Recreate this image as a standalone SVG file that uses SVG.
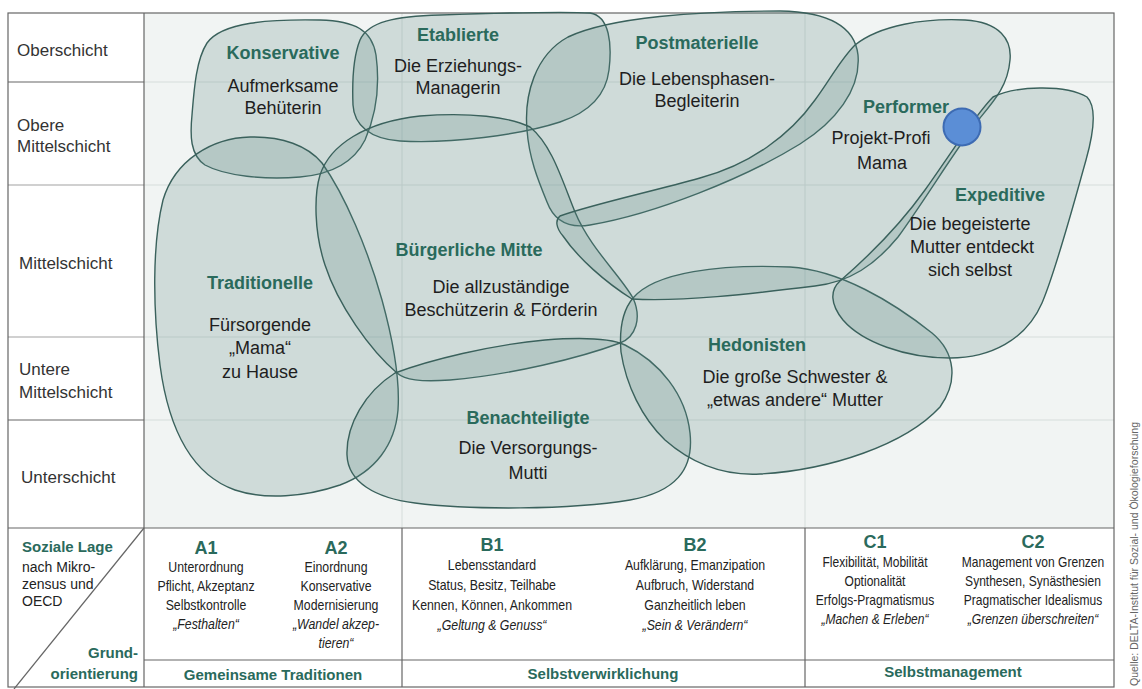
<svg xmlns="http://www.w3.org/2000/svg" width="1142" height="689" viewBox="0 0 1142 689">
<style>
text{font-family:"Liberation Sans",Arial,sans-serif}
.blob{fill:#5f8a84;fill-opacity:0.23;stroke:#3a615c;stroke-width:1.4}
.t{font-weight:bold;font-size:18px;fill:#2a6a5c;text-anchor:middle}
.s{font-size:18px;fill:#1e1e1e;text-anchor:middle}
.row{font-size:17px;fill:#333}
.grid{stroke:#d6dddb;stroke-width:1}
.line{stroke:#666;stroke-width:1.2;fill:none}
.hd{font-weight:bold;font-size:18px;fill:#2a6a5c;text-anchor:middle}
.c{font-size:14px;fill:#222;text-anchor:middle}
.ci{font-size:14px;fill:#222;text-anchor:middle;font-style:italic}
.or{font-weight:bold;font-size:15px;fill:#2a6a5c;text-anchor:middle}
.ore{font-weight:bold;font-size:15px;fill:#2a6a5c;text-anchor:end}
.lg{font-size:14px;fill:#222}
.lgh{font-size:15px;font-weight:bold;fill:#2a6a5c}
</style>
<rect x="0" y="0" width="1142" height="689" fill="#ffffff"/>
<rect x="144" y="13" width="970" height="515" fill="#f1f4f3"/>
<g id="grid">
<line class="grid" x1="144" y1="82" x2="1114" y2="82"/>
<line class="grid" x1="144" y1="185" x2="1114" y2="185"/>
<line class="grid" x1="144" y1="337" x2="1114" y2="337"/>
<line class="grid" x1="144" y1="420" x2="1114" y2="420"/>
<line class="grid" x1="402" y1="13" x2="402" y2="528"/>
<line class="grid" x1="805" y1="13" x2="805" y2="528"/>
</g>
<g id="frame">
<rect class="line" x="8" y="13" width="1106" height="674"/>
<line class="line" x1="144" y1="13" x2="144" y2="687"/>
<line class="line" x1="8" y1="82" x2="144" y2="82"/>
<line class="line" x1="8" y1="185" x2="144" y2="185" stroke-opacity="0.6"/>
<line class="line" x1="8" y1="337" x2="144" y2="337" stroke-opacity="0.6"/>
<line class="line" x1="8" y1="420" x2="144" y2="420"/>
<line class="line" x1="8" y1="528" x2="1114" y2="528" stroke-width="1.6"/>
<line class="line" x1="144" y1="660" x2="1114" y2="660"/>
<line class="line" x1="402" y1="528" x2="402" y2="687"/>
<line class="line" x1="805" y1="528" x2="805" y2="687"/>
<line class="line" x1="144" y1="528" x2="14" y2="689"/>
</g>
<g id="row-labels">
<text class="row" x="17" y="56">Oberschicht</text>
<text class="row" x="17" y="131">Obere</text>
<text class="row" x="17" y="152">Mittelschicht</text>
<text class="row" x="19" y="269">Mittelschicht</text>
<text class="row" x="19" y="375">Untere</text>
<text class="row" x="19" y="398">Mittelschicht</text>
<text class="row" x="21" y="483">Unterschicht</text>
</g>
<g id="konservative">
<path class="blob" d="M 207,43 C 222,22 270,19 320,20 C 355,21 372,30 376,55 C 380,85 376,115 365,140 C 355,160 335,174 300,177 C 265,180 225,176 205,165 C 190,155 190,135 192,115 C 194,90 196,60 207,43 Z"/>
<text class="t" x="283" y="59">Konservative</text>
<text class="s" x="283" y="92">Aufmerksame</text>
<text class="s" x="283" y="114">Behüterin</text>
</g>
<g id="etablierte">
<path class="blob" d="M 360,40 C 368,22 395,16 440,15 C 500,13 560,11 590,13 C 610,16 612,45 609,70 C 606,95 590,112 560,122 C 520,135 450,144 400,141 C 370,139 354,125 353,105 C 352,80 354,55 360,40 Z"/>
<text class="t" x="458" y="41">Etablierte</text>
<text class="s" x="458" y="72">Die Erziehungs-</text>
<text class="s" x="458" y="94">Managerin</text>
</g>
<g id="postmaterielle">
<path class="blob" d="M 527,130 C 524,95 535,55 568,37 C 610,17 700,11 780,11 C 830,12 855,28 858,55 C 861,90 835,122 800,144 C 745,178 655,214 590,225 C 566,229 553,218 547,202 C 538,180 529,158 527,130 Z"/>
<text class="t" x="697" y="49">Postmaterielle</text>
<text class="s" x="697" y="85">Die Lebensphasen-</text>
<text class="s" x="697" y="107">Begleiterin</text>
</g>
<g id="traditionelle">
<path class="blob" d="M 250,137 C 282,136 308,146 322,163 C 345,195 368,250 382,300 C 393,340 400,380 398,410 C 395,445 375,472 340,485 C 305,497 265,500 235,490 C 190,474 168,425 160,365 C 153,310 152,245 163,200 C 175,160 212,138 250,137 Z"/>
<text class="t" x="260" y="289">Traditionelle</text>
<text class="s" x="260" y="331">Fürsorgende</text>
<text class="s" x="260" y="354">&#8222;Mama&#8220;</text>
<text class="s" x="260" y="378">zu Hause</text>
</g>
<g id="buergerliche-mitte">
<path class="blob" d="M 320,175 C 330,145 365,122 420,116 C 470,112 510,117 530,127 C 552,145 562,180 575,212 C 590,248 620,275 633,298 C 642,318 636,337 620,343 C 580,358 510,375 450,380 C 420,382 405,380 397,373 C 370,350 338,305 325,265 C 314,232 314,195 320,175 Z"/>
<text class="t" x="469" y="256">Bürgerliche Mitte</text>
<text class="s" x="501" y="293">Die allzuständige</text>
<text class="s" x="501" y="316">Beschützerin &amp; Förderin</text>
</g>
<g id="benachteiligte">
<path class="blob" d="M 395,373 C 430,360 490,345 545,340 C 585,337 610,338 625,345 C 660,362 686,395 690,433 C 694,470 675,492 630,500 C 570,510 470,510 415,503 C 375,498 348,482 347,455 C 346,425 365,392 395,373 Z"/>
<text class="t" x="528" y="424">Benachteiligte</text>
<text class="s" x="528" y="454">Die Versorgungs-</text>
<text class="s" x="528" y="479">Mutti</text>
</g>
<g id="hedonisten">
<path class="blob" d="M 633,298 C 655,272 720,264 790,267 C 840,270 893,302 932,333 C 956,353 958,382 940,407 C 905,445 830,470 760,474 C 722,476 690,462 665,440 C 642,418 626,385 621,352 C 619,328 623,310 633,298 Z"/>
<text class="t" x="757" y="351">Hedonisten</text>
<text class="s" x="795" y="383">Die große Schwester &amp;</text>
<text class="s" x="795" y="406">&#8222;etwas andere&#8220; Mutter</text>
</g>
<g id="performer">
<path class="blob" d="M 560,216 C 590,205 650,192 700,178 C 750,165 790,135 815,100 C 830,80 840,60 855,45 C 880,25 925,18 965,20 C 1000,22 1012,40 1010,60 C 1008,85 995,100 980,118 C 955,150 925,200 898,237 C 875,265 850,282 815,286 C 750,294 680,302 632,299 C 605,282 578,258 563,236 C 556,228 555,220 560,216 Z"/>
<text class="t" x="906" y="113">Performer</text>
<text class="s" x="881" y="144">Projekt-Profi</text>
<text class="s" x="882" y="169">Mama</text>
</g>
<g id="expeditive">
<path class="blob" d="M 993,97 C 1015,86 1065,84 1087,97 C 1098,108 1093,135 1086,160 C 1072,210 1056,270 1042,303 C 1026,340 990,358 950,358 C 905,358 862,342 843,320 C 830,304 830,290 840,281 C 870,255 900,225 925,190 C 950,155 975,115 993,97 Z"/>
<text class="t" x="1000" y="201">Expeditive</text>
<text class="s" x="970" y="230">Die begeisterte</text>
<text class="s" x="972" y="253">Mutter entdeckt</text>
<text class="s" x="970" y="276">sich selbst</text>
</g>
<g id="marker">
<circle cx="962" cy="127" r="18.5" fill="#5b8ed6" stroke="#3d6bb3" stroke-width="2"/>
</g>
<g id="legend-cell">
<text class="lgh" x="22" y="552">Soziale Lage</text>
<text class="lg" x="22" y="572">nach Mikro-</text>
<text class="lg" x="22" y="589">zensus und</text>
<text class="lg" x="22" y="606">OECD</text>
<text class="ore" x="138" y="658">Grund-</text>
<text class="ore" x="138" y="679">orientierung</text>
</g>
<g id="col-A1">
<text class="hd" x="206" y="554">A1</text>
<g transform="translate(206,0) scale(0.88,1)">
<text class="c" x="0" y="572">Unterordnung</text>
<text class="c" x="0" y="591">Pflicht, Akzeptanz</text>
<text class="c" x="0" y="610">Selbstkontrolle</text>
<text class="ci" x="0" y="629">&#8222;Festhalten&#8220;</text>
</g>
</g>
<g id="col-A2">
<text class="hd" x="336" y="554">A2</text>
<g transform="translate(336,0) scale(0.88,1)">
<text class="c" x="0" y="572">Einordnung</text>
<text class="c" x="0" y="591">Konservative</text>
<text class="c" x="0" y="610">Modernisierung</text>
<text class="ci" x="0" y="629">&#8222;Wandel akzep-</text>
<text class="ci" x="0" y="648">tieren&#8220;</text>
</g>
</g>
<g id="col-B1">
<text class="hd" x="492" y="551">B1</text>
<g transform="translate(492,0) scale(0.88,1)">
<text class="c" x="0" y="570">Lebensstandard</text>
<text class="c" x="0" y="590">Status, Besitz, Teilhabe</text>
<text class="c" x="0" y="610">Kennen, Können, Ankommen</text>
<text class="ci" x="0" y="630">&#8222;Geltung &amp; Genuss&#8220;</text>
</g>
</g>
<g id="col-B2">
<text class="hd" x="695" y="551">B2</text>
<g transform="translate(695,0) scale(0.88,1)">
<text class="c" x="0" y="570">Aufklärung, Emanzipation</text>
<text class="c" x="0" y="590">Aufbruch, Widerstand</text>
<text class="c" x="0" y="610">Ganzheitlich leben</text>
<text class="ci" x="0" y="630">&#8222;Sein &amp; Verändern&#8220;</text>
</g>
</g>
<g id="col-C1">
<text class="hd" x="875" y="548">C1</text>
<g transform="translate(875,0) scale(0.86,1)">
<text class="c" x="0" y="567">Flexibilität, Mobilität</text>
<text class="c" x="0" y="586">Optionalität</text>
<text class="c" x="0" y="605">Erfolgs-Pragmatismus</text>
<text class="ci" x="0" y="624">&#8222;Machen &amp; Erleben&#8220;</text>
</g>
</g>
<g id="col-C2">
<text class="hd" x="1033" y="548">C2</text>
<g transform="translate(1033,0) scale(0.86,1)">
<text class="c" x="0" y="567">Management von Grenzen</text>
<text class="c" x="0" y="586">Synthesen, Synästhesien</text>
<text class="c" x="0" y="605">Pragmatischer Idealismus</text>
<text class="ci" x="0" y="624">&#8222;Grenzen überschreiten&#8220;</text>
</g>
</g>
<g id="orientation">
<text class="or" x="273" y="680">Gemeinsame Traditionen</text>
<text class="or" x="603" y="679">Selbstverwirklichung</text>
<text class="or" x="953" y="677">Selbstmanagement</text>
</g>
<text transform="translate(1138,686) rotate(-90)" font-size="10.5" fill="#666">Quelle: DELTA-Institut für Sozial- und Ökologieforschung</text>
</svg>
